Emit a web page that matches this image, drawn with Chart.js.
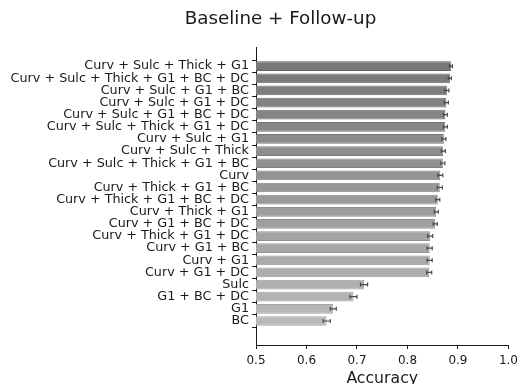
<!DOCTYPE html>
<html>
<head>
<meta charset="utf-8">
<script src="https://cdn.jsdelivr.net/npm/chart.js@4/dist/chart.umd.min.js"></script>
<style>
  html, body { margin: 0; padding: 0; background: #fff; }
  #wrap { width: 523px; height: 384px; }
</style>
</head>
<body>
<div id="wrap"><canvas id="acc"></canvas></div>
<script>
// feature sets, best first
const featureSets = [
    'Curv + Sulc + Thick + G1',
    'Curv + Sulc + Thick + G1 + BC + DC',
    'Curv + Sulc + G1 + BC',
    'Curv + Sulc + G1 + DC',
    'Curv + Sulc + G1 + BC + DC',
    'Curv + Sulc + Thick + G1 + DC',
    'Curv + Sulc + G1',
    'Curv + Sulc + Thick',
    'Curv + Sulc + Thick + G1 + BC',
    'Curv',
    'Curv + Thick + G1 + BC',
    'Curv + Thick + G1 + BC + DC',
    'Curv + Thick + G1',
    'Curv + G1 + BC + DC',
    'Curv + Thick + G1 + DC',
    'Curv + G1 + BC',
    'Curv + G1',
    'Curv + G1 + DC',
    'Sulc',
    'G1 + BC + DC',
    'G1',
    'BC'
];
const meanAcc = [0.886, 0.884, 0.878, 0.877, 0.875, 0.875, 0.872, 0.871, 0.870, 0.865, 0.864,
    0.860, 0.857, 0.855, 0.845, 0.844, 0.844, 0.843, 0.714, 0.693, 0.653, 0.640];
const errAcc = [0.003, 0.003, 0.004, 0.004, 0.004, 0.004, 0.004, 0.004, 0.004, 0.005, 0.005,
    0.004, 0.004, 0.004, 0.005, 0.005, 0.005, 0.005, 0.007, 0.007, 0.006, 0.007];
const xTicks = [0.5, 0.6, 0.7, 0.8, 0.9, 1.0];

const FONT = 'DejaVu Sans';
const INK = '#1a1a1a';

// grey ramp, darker for the top rows
function grey(i, shift) {
    const v = Math.round(120 + (185 - 120) * i / (featureSets.length - 1)) + (shift || 0);
    return 'rgb(' + v + ',' + v + ',' + v + ')';
}

const errorBars = {
    id: 'errorBars',
    afterDatasetsDraw(chart) {
        const ctx = chart.ctx;
        const xs = chart.scales.x;
        const meta = chart.getDatasetMeta(0);
        ctx.save();
        ctx.strokeStyle = '#4a4a4a';
        ctx.lineWidth = 1.2;
        meta.data.forEach((bar, i) => {
            const x1 = xs.getPixelForValue(meanAcc[i] - errAcc[i]);
            const x2 = xs.getPixelForValue(meanAcc[i] + errAcc[i]);
            const y = bar.y;
            ctx.beginPath();
            ctx.moveTo(x1, y); ctx.lineTo(x2, y);
            ctx.moveTo(x1, y - 2); ctx.lineTo(x1, y + 2);
            ctx.moveTo(x2, y - 2); ctx.lineTo(x2, y + 2);
            ctx.stroke();
        });
        ctx.restore();
    }
};

const figTitle = {
    id: 'figTitle',
    afterDraw(chart) {
        const ctx = chart.ctx;
        ctx.save();
        ctx.font = '18.3px "' + FONT + '"';
        ctx.fillStyle = INK;
        ctx.textAlign = 'center';
        ctx.textBaseline = 'middle';
        ctx.fillText('Baseline + Follow-up', 280.5, 19);
        ctx.restore();
    }
};

new Chart(document.getElementById('acc'), {
    type: 'bar',
    data: {
        datasets: [{
            data: meanAcc.map((v, i) => ({ x: v, y: i })),
            backgroundColor: featureSets.map((_, i) => grey(i)),
            borderColor: featureSets.map((_, i) => grey(i, -18)),
            borderWidth: 1,
            borderSkipped: false,
            barPercentage: 0.8,
            categoryPercentage: 1
        }]
    },
    options: {
        indexAxis: 'y',
        responsive: true,
        maintainAspectRatio: false,
        animation: false,
        layout: { padding: { top: 47, left: 0, right: 13, bottom: 0 } },
        plugins: {
            legend: { display: false },
            tooltip: { enabled: false }
        },
        scales: {
            x: {
                type: 'linear',
                min: 0.5,
                max: 1.0,
                afterBuildTicks: axis => { axis.ticks = xTicks.map(v => ({ value: v })); },
                afterFit: axis => { axis.height = 39; },
                grid: { display: true, drawOnChartArea: false, drawTicks: true, tickLength: 4, color: INK },
                border: { display: true, color: INK, width: 1 },
                ticks: {
                    padding: 5,
                    color: INK,
                    font: { family: FONT, size: 12 },
                    callback: v => v.toFixed(1)
                },
                title: {
                    display: true,
                    text: 'Accuracy',
                    color: INK,
                    padding: 0,
                    font: { family: FONT, size: 15.7, lineHeight: 0.66 }
                }
            },
            y: {
                type: 'linear',
                reverse: true,
                min: -1.02,
                max: 22.42,
                afterBuildTicks: axis => { axis.ticks = featureSets.map((_, i) => ({ value: i })); },
                afterFit: axis => { axis.width = 256; },
                grid: { display: true, drawOnChartArea: false, drawTicks: true, tickLength: 4, color: INK },
                border: { display: true, color: INK, width: 1 },
                ticks: {
                    autoSkip: false,
                    padding: 3,
                    color: INK,
                    font: { family: FONT, size: 12.75 },
                    callback: v => featureSets[v]
                }
            }
        }
    },
    plugins: [errorBars, figTitle]
});
</script>
</body>
</html>
